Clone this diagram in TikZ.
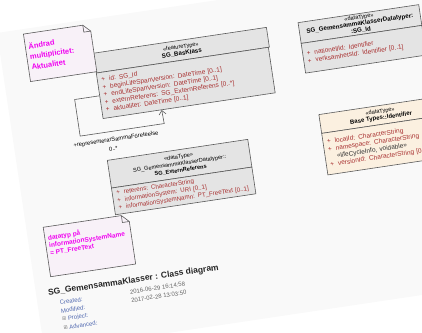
\documentclass[tikz,border=0pt]{standalone}
\usepackage{fontspec}
\setmainfont{Liberation Sans}
\newfontfamily\symfont{DejaVu Sans}
\usepackage{tikz}
\usetikzlibrary{shapes,arrows.meta}

\definecolor{umlgrey}{HTML}{E4E4E4}
\definecolor{umlbeige}{HTML}{FBF0E0}
\definecolor{umlline}{HTML}{5A5A5A}
\definecolor{attrred}{HTML}{A83030}
\definecolor{notefill}{HTML}{F8F1F8}
\definecolor{notetext}{HTML}{F000F0}
\definecolor{linkblue}{HTML}{5068B0}
\definecolor{papergrey}{HTML}{F9F9F9}

\newcommand{\umlattr}[1]{+\hspace{4pt}#1}
\newcommand{\umlskip}{\phantom{+}\hspace{4pt}}

\begin{document}
\begin{tikzpicture}[x=1pt,y=-1pt,
    head/.style={draw=umlline,fill=umlgrey,line width=.6pt,anchor=north west,
      align=center,inner sep=0pt,font=\fontsize{5.6}{6.8}\selectfont},
    body/.style={draw=umlline,fill=umlgrey,line width=.6pt,anchor=north west,
      align=left,inner xsep=4pt,inner ysep=0pt,text=attrred,
      font=\fontsize{6.5}{7.6}\selectfont},
    notebox/.style={draw=umlline,fill=notefill,line width=.6pt,line join=round},
    notetxt/.style={anchor=north west,inner sep=0pt,align=left,text=notetext},
    assoc/.style={draw=umlline,line width=.6pt,-{Straight Barb[length=4pt,width=7pt]}},
    small/.style={anchor=west,inner sep=0pt,font=\fontsize{6}{7}\selectfont}]

  \useasboundingbox (0,0) rectangle (422,332);
  \clip (0,0) rectangle (422,332);

  \begin{scope}[shift={(93,53)},rotate=8.5,transform shape]
    % the sheet
    \fill[papergrey] (-92,-34) rectangle (430,288);

    % SG_BasKlass
    \node[head,text width=175pt,minimum height=20pt] (basHead) at (0,0)
      {«featureType»\\\textbf{\fontsize{6.2}{6.8}\selectfont SG\_BasKlass}};
    \node[body,text width=166pt,minimum height=46pt] (basBody) at (0,20)
      {\umlattr{id: SG\_Id}\\
       \umlattr{beginLifeSpanVersion: DateTime [0..1]}\\
       \umlattr{endLifeSpanVersion: DateTime [0..1]}\\
       \umlattr{externReferens: SG\_ExternReferens [0..*]}\\
       \umlattr{aktualitet: DateTime [0..1]}};

    % SG_Id
    \node[head,text width=122pt,minimum height=21pt] (idHead) at (207,0)
      {«dataType»\\[-.5pt]\textbf{\fontsize{6.2}{6.8}\selectfont SG\_GemensammaKlasserDatatyper:}\\
       \textbf{\fontsize{6.2}{6.8}\selectfont :SG\_Id}};
    \node[body,text width=114pt,minimum height=30pt] (idBody) at (207,21)
      {\umlattr{nationellId: Identifier}\\
       \umlattr{verksamhetsId: Identifier [0..1]}};

    % SG_ExternReferens
    \node[head,text width=142pt,minimum height=28pt] (extHead) at (-2,108)
      {«dataType»\\SG\_GemensammaKlasserDatatyper::\\\textbf{SG\_ExternReferens}};
    \node[body,text width=134pt,minimum height=27pt,font=\fontsize{6.2}{7.5}\selectfont]
      (extBody) at (-2,136)
      {\umlattr{referens: CharacterString}\\
       \umlattr{informationSystem: URI [0..1]}\\
       \umlattr{informationSystemNamn: PT\_FreeText [0..1]}};

    % Base Types::Identifier
    \node[head,fill=umlbeige,text width=122pt,minimum height=19pt] (identHead) at (214,94)
      {«dataType»\\\textbf{\fontsize{6}{6.8}\selectfont Base Types::Identifier}};
    \node[body,fill=umlbeige,text width=114pt,minimum height=42pt] (identBody) at (214,113)
      {\umlattr{localId: CharacterString}\\
       \umlattr{namespace: CharacterString}\\
       {\color{black!80}\umlskip«lifeCycleInfo, voidable»}\\
       \umlattr{versionId: CharacterString [0..1]}};

    % self association
    \draw[assoc] (basBody.west) -- ++(-25,0) -- ++(0,37) -- ++(85,0) -- (basBody.-140);
    \node[inner sep=0pt,font=\fontsize{5.8}{7}\selectfont] (roleName) at (10,89)
      {+representerarSammaFöreteelse};
    \node[inner sep=0pt,font=\fontsize{5.8}{7}\selectfont] (roleMult) at (6,97.5) {0..*};

    % notes
    \draw[notebox] (-66,-29) -- (-6,-29) -- (1,-22) -- (1,19) -- (-66,19) -- cycle;
    \draw[notebox,fill=none] (-6,-29) -- (-6,-22) -- (1,-22);
    \node[notetxt,font=\bfseries\fontsize{7.5}{10.5}\selectfont] (noteAktualitet) at (-63,-20)
      {Ändrad\\multiplicitet:\\Aktualitet};

    \draw[notebox] (-75,165) -- (4,165) -- (11,172) -- (11,215) -- (-75,215) -- cycle;
    \draw[notebox,fill=none] (4,165) -- (4,172) -- (11,172);
    \node[notetxt,font=\bfseries\fontsize{6.5}{7.5}\selectfont] (noteFreeText) at (-72,173)
      {datatyp på\\informationSystemName\\= PT\_FreeText};

    % diagram properties
    \node[anchor=west,inner sep=0pt,text=black!85,font=\bfseries\fontsize{8.5}{10}\selectfont]
      (diagTitle) at (-80,231) {SG\_GemensammaKlasser : Class diagram};
    \node[small,text=linkblue] (createdLbl) at (-70,242) {Created:};
    \node[small,text=linkblue] (modifiedLbl) at (-70,250.5) {Modified:};
    \node[small,text=linkblue] (projectLbl) at (-70,259)
      {{\color{black!50}\symfont\fontsize{5}{6}\selectfont ⊞}\ Project:};
    \node[small,text=linkblue] (advancedLbl) at (-70,267.5)
      {{\color{black!50}\symfont\fontsize{5}{6}\selectfont ⊞}\ Advanced:};
    \node[small,text=black!60] (createdDate) at (1,242) {2016-06-29 16:14:58};
    \node[small,text=black!60] (modifiedDate) at (1,250.5) {2017-02-28 13:03:50};
  \end{scope}
\end{tikzpicture}
\end{document}
